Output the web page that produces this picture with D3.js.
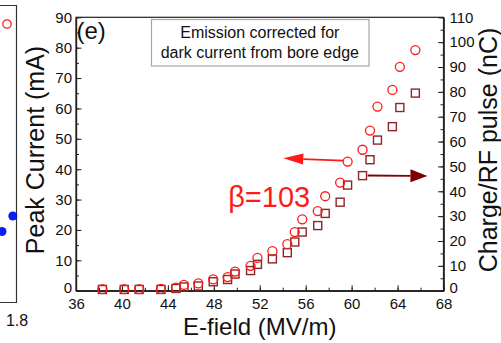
<!DOCTYPE html>
<html><head><meta charset="utf-8">
<script src="https://cdn.jsdelivr.net/npm/d3@7"></script>
<style>
body{margin:0;background:#fff;}
svg{display:block;font-family:"Liberation Sans",Arial,sans-serif;}
</style></head>
<body><svg id="c" width="501" height="343"></svg>
<script>
// ---- data ----
const efield = [38.3, 40.2, 41.5, 43.4, 44.7, 45.4, 46.65, 47.95, 49.2, 49.85, 51.2, 51.8, 53.1, 54.4, 55.05, 55.7, 57.05, 57.7, 59.0, 59.65, 60.95, 61.6, 62.25, 63.55, 64.2, 65.55];
const peakCurrent = [0.5, 0.5, 0.5, 0.6, 1.0, 1.9, 2.4, 3.7, 4.5, 6.3, 8.2, 10.8, 13.0, 15.3, 19.3, 23.5, 26.2, 31.1, 35.6, 42.5, 46.4, 52.7, 60.6, 66.1, 73.7, 79.2];
const chargePerPulse = [0.5, 0.5, 0.5, 0.5, 0.9, 1.5, 1.9, 3.6, 4.5, 6.7, 8.1, 10.6, 12.8, 15.3, 19.6, 23.6, 26.2, 31.1, 35.6, 42.5, 46.3, 52.7, 60.6, 66.0, 73.7, 79.5];
const xTicks = [36, 40, 44, 48, 52, 56, 60, 64, 68];
const yLeftTicks = [0, 10, 20, 30, 40, 50, 60, 70, 80, 90];
const yRightTicks = [0, 10, 20, 30, 40, 50, 60, 70, 80, 90, 100, 110];
const legendLines = ["Emission corrected for", "dark current from bore edge"];
const betaLabel = "\u03b2=103";
const panelLabel = "(e)";
const xTitle = "E-field (MV/m)";
const yLeftTitle = "Peak Current (mA)";
const yRightTitle = "Charge/RF pulse (nC)";
// arrows (data coords)
const arrowLeft = {from: [59.3, 42.8], to: [54.05, 43.6]};   // left axis (mA)
const arrowRight = {from: [61.4, 46.35], to: [66.6, 46.15]};  // right axis (nC)

// ---- layout ----
const svg = d3.select("#c");
const L = 76, R = 443.5, T = 17.3, B = 290.7;
const x = d3.scaleLinear().domain([36, 68]).range([L, R]);
const yL = d3.scaleLinear().domain([0, 90]).range([B, T]);
const yR = d3.scaleLinear().domain([0, 110]).range([B, T]);

const red = "#ff1a1a", wine = "#8e2424", darkArrow = "#800000";

// left partial panel
const lp = svg.append("g");
lp.append("path").attr("d", "M-2,5.5 H16.5 V302.5 H-2").attr("fill", "none").attr("stroke", "#333").attr("stroke-width", 1.2);
lp.append("circle").attr("cx", 7).attr("cy", 24).attr("r", 4.2).attr("fill", "none").attr("stroke", red).attr("stroke-width", 1.3);
lp.append("circle").attr("cx", 12.8).attr("cy", 216).attr("r", 4.5).attr("fill", "#0a1ef0");
lp.append("circle").attr("cx", 2).attr("cy", 231.5).attr("r", 4.5).attr("fill", "#0a1ef0");
lp.append("text").attr("x", 17).attr("y", 326).attr("text-anchor", "middle").attr("font-size", 16).attr("fill", "#111").text("1.8");

// frame
svg.append("rect").attr("x", L).attr("y", T).attr("width", R - L).attr("height", B - T)
  .attr("fill", "none").attr("stroke", "#222").attr("stroke-width", 1.2);

function styleAxis(g){
  g.selectAll("path.domain").attr("stroke", "#222").attr("stroke-width", 1.2);
  g.selectAll(".tick line").attr("stroke", "#222").attr("stroke-width", 1);
  g.selectAll("text").attr("font-size", 15).attr("fill", "#111").attr("font-family", "Liberation Sans, Arial, sans-serif");
}
// x axis
const minorX = d3.range(36, 68.01, 2);
svg.append("g").attr("transform", `translate(0,${B})`)
  .call(d3.axisBottom(x).tickValues(minorX).tickSize(-3).tickSizeOuter(0).tickFormat(""))
  .call(styleAxis);
svg.append("g").attr("transform", `translate(0,${B})`)
  .call(d3.axisBottom(x).tickValues(xTicks).tickSize(-5.5).tickSizeOuter(0).tickPadding(8).tickFormat(d3.format("d")))
  .call(styleAxis);
// left axis
svg.append("g").attr("transform", `translate(${L},0)`)
  .call(d3.axisLeft(yL).tickValues(d3.range(0, 90.01, 5)).tickSize(-3).tickSizeOuter(0).tickFormat(""))
  .call(styleAxis);
svg.append("g").attr("transform", `translate(${L},0)`)
  .call(d3.axisLeft(yL).tickValues(yLeftTicks).tickSize(-5.5).tickSizeOuter(0).tickPadding(4).tickFormat(d3.format("d")))
  .call(styleAxis)
  .call(g => g.selectAll(".tick text").filter(d => d === 0).attr("dy", "0.1em"));
// right axis
svg.append("g").attr("transform", `translate(${R},0)`)
  .call(d3.axisRight(yR).tickValues(d3.range(0, 110.01, 5)).tickSize(-3).tickSizeOuter(0).tickFormat(""))
  .call(styleAxis);
svg.append("g").attr("transform", `translate(${R},0)`)
  .call(d3.axisRight(yR).tickValues(yRightTicks).tickSize(-5.5).tickSizeOuter(0).tickPadding(6).tickFormat(d3.format("d")))
  .call(styleAxis)
  .call(g => g.selectAll(".tick text").filter(d => d === 0).attr("dy", "0.1em"));

// titles
svg.append("text").attr("x", (L + R) / 2).attr("y", 335).attr("text-anchor", "middle")
  .attr("font-size", 24).attr("fill", "#111").text(xTitle);
svg.append("text").attr("transform", `translate(44,150) rotate(-90)`).attr("text-anchor", "middle")
  .attr("font-size", 25).attr("fill", "#111").text(yLeftTitle);
svg.append("text").attr("transform", `translate(497,150) rotate(-90)`).attr("text-anchor", "middle")
  .attr("font-size", 25).attr("fill", "#111").text(yRightTitle);

// panel label
svg.append("text").attr("x", L + 0.5).attr("y", 38.5).attr("font-size", 24).attr("fill", "#111").text(panelLabel);

// legend box
svg.append("rect").attr("x", 151.5).attr("y", 19.5).attr("width", 217.5).attr("height", 46.5)
  .attr("fill", "#fff").attr("stroke", "#a5a5a5").attr("stroke-width", 1.2);
legendLines.forEach((t, i) => {
  svg.append("text").attr("x", 259.8).attr("y", 38.3 + i * 20).attr("text-anchor", "middle")
    .attr("font-size", 16).attr("fill", "#111").text(t);
});

// squares (right axis)
const sq = 8;
svg.append("g").selectAll("rect").data(efield.map((e, i) => [e, chargePerPulse[i]])).join("rect")
  .attr("x", d => x(d[0]) - sq / 2).attr("y", d => yR(d[1]) - sq / 2)
  .attr("width", sq).attr("height", sq)
  .attr("fill", "none").attr("stroke", wine).attr("stroke-width", 1.4);
// circles (left axis)
svg.append("g").selectAll("circle").data(efield.map((e, i) => [e, peakCurrent[i]])).join("circle")
  .attr("cx", d => x(d[0])).attr("cy", d => yL(d[1])).attr("r", 4.5)
  .attr("fill", "none").attr("stroke", red).attr("stroke-width", 1.3);

// arrows
function arrow(p0, p1, color, headLen, headHalf, sw){
  const dx = p1[0] - p0[0], dy = p1[1] - p0[1];
  const len = Math.hypot(dx, dy), ux = dx / len, uy = dy / len;
  const bx = p1[0] - ux * headLen, by = p1[1] - uy * headLen;
  svg.append("line").attr("x1", p0[0]).attr("y1", p0[1]).attr("x2", bx).attr("y2", by)
    .attr("stroke", color).attr("stroke-width", sw);
  svg.append("path").attr("d", `M${p1[0]},${p1[1]} L${bx - uy * headHalf},${by + ux * headHalf} L${bx + uy * headHalf},${by - ux * headHalf} Z`)
    .attr("fill", color);
}
arrow([x(arrowLeft.from[0]), yL(arrowLeft.from[1])], [x(arrowLeft.to[0]), yL(arrowLeft.to[1])], red, 20, 5.5, 1.8);
arrow([x(arrowRight.from[0]), yR(arrowRight.from[1])], [x(arrowRight.to[0]), yR(arrowRight.to[1])], darkArrow, 17, 6.5, 1.8);

// beta label
svg.append("text").attr("x", x(49.25)).attr("y", yL(27.4)).attr("font-size", 29).attr("fill", red).text(betaLabel);
</script></body></html>
